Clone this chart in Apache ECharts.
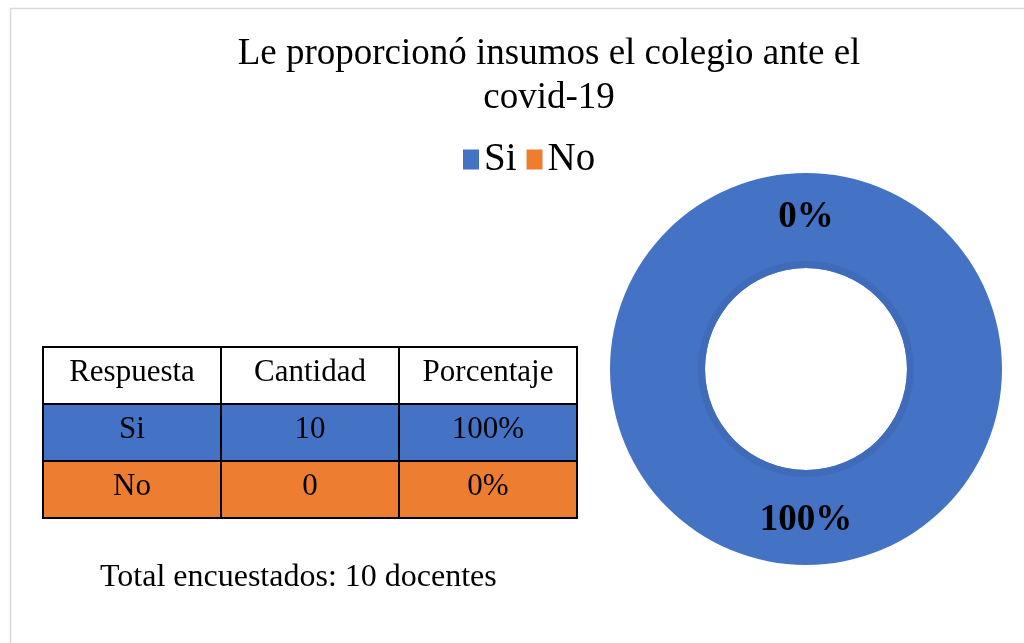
<!DOCTYPE html>
<html>
<head>
<meta charset="utf-8">
<script src="https://cdn.jsdelivr.net/npm/echarts@6/dist/echarts.min.js"></script>
<style>
  html, body { margin: 0; padding: 0; background: #fff; }
  #chart { width: 1024px; height: 643px; }
</style>
</head>
<body>
<div id="chart"></div>
<script>
const categories = ['Si', 'No'];
const counts = [10, 0];
const percentLabels = ['100%', '0%'];
const tableHeader = ['Respuesta', 'Cantidad', 'Porcentaje'];
const totalText = 'Total encuestados: 10 docentes';

const colors = ['#4472C4', '#ED7D31'];
const serif = '"Liberation Serif", "Times New Roman", serif';

const chart = echarts.init(document.getElementById('chart'));

// table built from the arrays above
const tableLeft = 43, tableTop = 347, colW = 178, rowH = 57;
const rows = [tableHeader].concat(categories.map((c, i) => [c, String(counts[i]), percentLabels[i]]));
const fills = ['#ffffff'].concat(colors);
const tableGraphics = [];
rows.forEach((row, r) => {
  row.forEach((cell, c) => {
    tableGraphics.push({
      type: 'rect',
      shape: { x: tableLeft + c * colW, y: tableTop + r * rowH, width: colW, height: rowH },
      style: { fill: fills[r], stroke: '#000', lineWidth: 2 }
    });
    tableGraphics.push({
      type: 'text',
      x: tableLeft + c * colW + colW / 2,
      y: tableTop + r * rowH + 26,
      style: {
        text: cell, fill: '#000', font: '31px ' + serif,
        align: 'center', verticalAlign: 'middle'
      }
    });
  });
});

const option = {
  backgroundColor: '#fff',
  color: colors,
  title: {
    text: 'Le proporcionó insumos el colegio ante el\ncovid-19',
    left: 544,
    top: 27,
    textAlign: 'center',
    textStyle: {
      fontFamily: serif, fontSize: 37, fontWeight: 'normal',
      color: '#000', lineHeight: 44
    }
  },
  legend: {
    data: categories,
    top: 135,
    left: 458,
    icon: 'rect',
    itemWidth: 16,
    itemHeight: 20,
    itemGap: 10,
    selectedMode: false,
    textStyle: { fontFamily: serif, fontSize: 39, color: '#000' }
  },
  graphic: [
    {
      type: 'rect',
      shape: { x: 10.5, y: 8.5, width: 1100, height: 700 },
      style: { fill: 'none', stroke: '#d9d9d9', lineWidth: 1.5 },
      silent: true
    },
    ...tableGraphics,
    {
      type: 'text',
      x: 100,
      y: 578,
      style: { text: totalText, fill: '#000', font: '32px ' + serif, verticalAlign: 'middle' }
    }
  ],
  series: [
    {
      type: 'pie',
      center: [806, 369],
      radius: [101, 196],
      startAngle: 90,
      clockwise: true,
      avoidLabelOverlap: false,
      minShowLabelAngle: 0,
      label: {
        show: true,
        position: 'inside',
        formatter: '{d}%',
        fontFamily: serif,
        fontSize: 37,
        fontWeight: 'bold',
        color: '#000'
      },
      labelLine: { show: false },
      emphasis: { disabled: true },
      data: categories.map((c, i) => ({ name: c, value: counts[i] }))
    },
    {
      // darker shading on the inner edge of the ring
      type: 'pie',
      center: [806, 369],
      radius: [101, 108],
      silent: true,
      label: { show: false },
      labelLine: { show: false },
      itemStyle: { color: '#3F6BBA' },
      data: [{ name: 'Si', value: counts[0] }]
    }
  ]
};

chart.setOption(option);
</script>
</body>
</html>
